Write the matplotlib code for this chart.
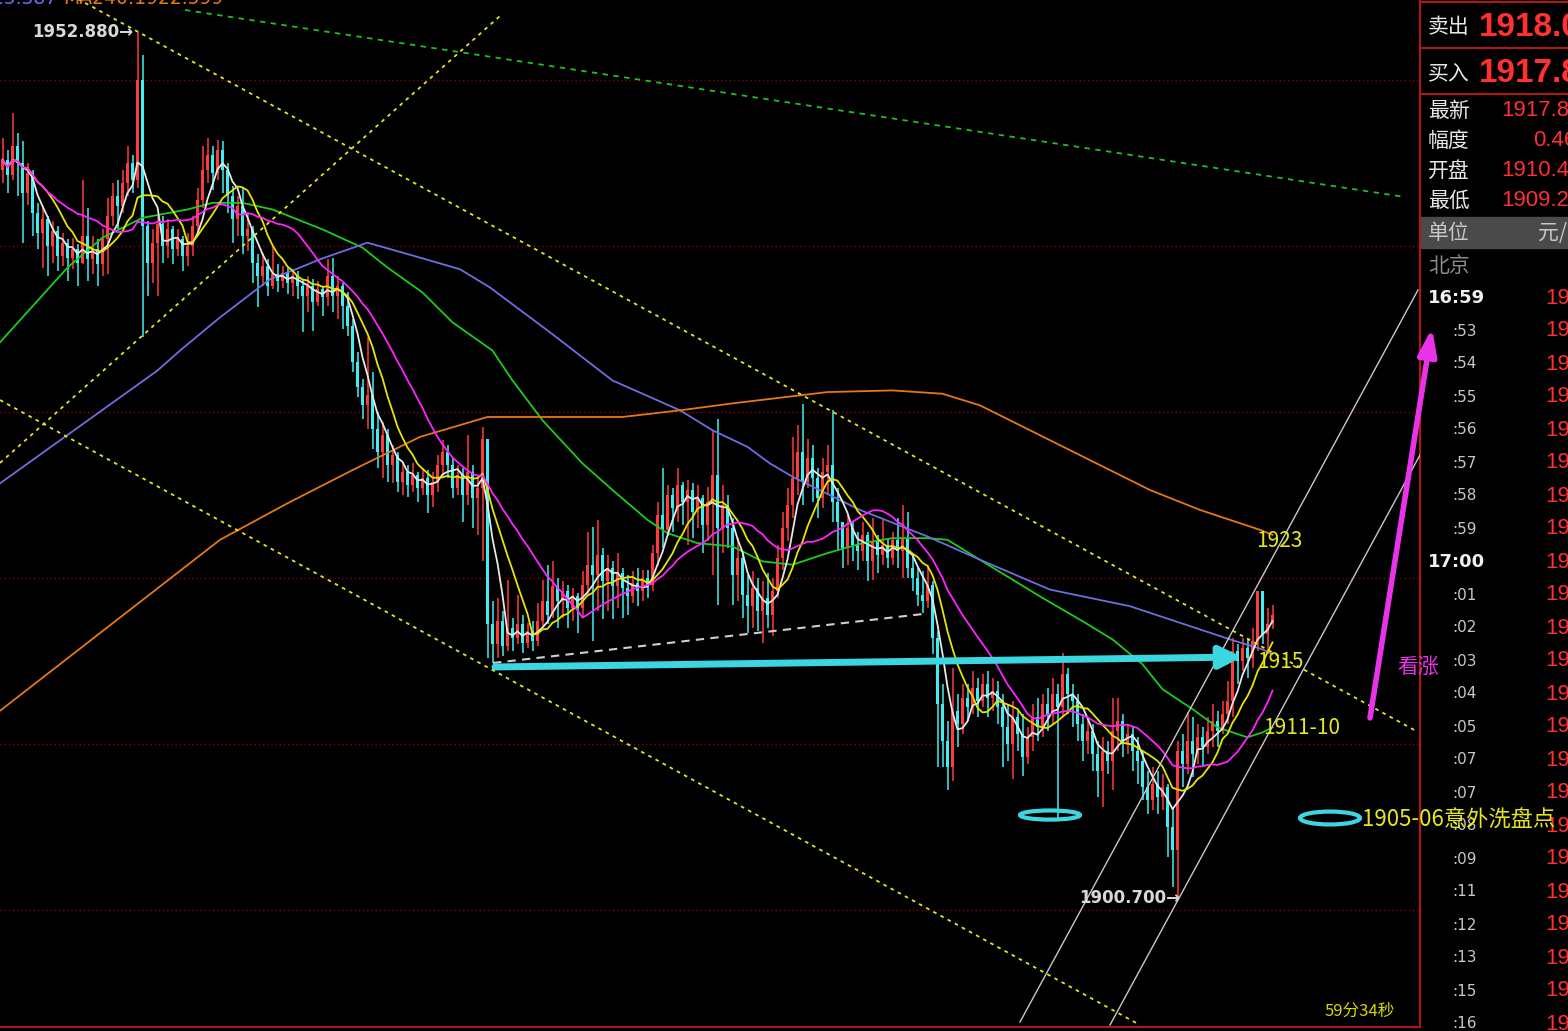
import matplotlib
matplotlib.use("Agg")
import matplotlib.pyplot as plt
import numpy as np
import pandas as pd
from matplotlib.patches import Ellipse, Rectangle

plt.rcParams['font.family'] = ['Noto Sans CJK SC', 'DejaVu Sans']

# 1-minute bars, 元/克
first_open = 1944.6
close = [
    1945.2, 1944.3, 1946.0, 1945.0, 1943.2, 1944.4, 1942.0, 1940.8, 1941.6, 1940.0,
    1940.9, 1939.4, 1940.2, 1939.3, 1939.8, 1939.0, 1940.6, 1939.2, 1939.8, 1938.9,
    1940.4, 1941.8, 1943.0, 1942.4, 1943.8, 1945.0, 1944.0, 1950.0, 1941.2, 1939.0,
    1940.2, 1941.3, 1940.0, 1941.0, 1939.8, 1940.4, 1939.4, 1940.0, 1941.2, 1942.8,
    1944.6, 1945.5, 1944.4, 1945.8, 1944.6, 1943.0, 1941.6, 1942.4, 1940.6, 1941.0,
    1939.0, 1938.2, 1938.8, 1937.6, 1938.3, 1937.9, 1938.4, 1937.8, 1938.2, 1937.6,
    1937.0, 1937.6, 1936.6, 1937.4, 1936.9, 1938.2, 1937.0, 1937.6, 1936.4, 1935.2,
    1933.0, 1931.5, 1930.4, 1931.0, 1929.0, 1927.6, 1928.6, 1926.8, 1927.4, 1925.8,
    1926.4, 1925.6, 1926.2, 1925.4, 1926.0, 1925.0, 1925.8, 1926.8, 1927.6, 1926.8,
    1925.4, 1926.2, 1925.0, 1926.4, 1924.8, 1925.4, 1928.4, 1917.2, 1916.0, 1917.4,
    1915.9, 1917.0, 1916.4, 1917.2, 1916.1, 1916.8, 1916.2, 1917.4, 1918.6, 1917.8,
    1919.5, 1918.6, 1919.2, 1918.2, 1918.9, 1918.2, 1919.6, 1920.8, 1920.2, 1921.4,
    1919.8, 1920.6, 1919.5, 1920.3, 1919.4, 1918.9, 1919.7, 1919.2, 1920.0, 1919.6,
    1921.5, 1923.8, 1922.9, 1925.0, 1924.2, 1925.6, 1924.6, 1925.3, 1924.0, 1924.8,
    1923.2, 1924.6, 1926.2, 1923.0, 1924.4, 1923.0, 1920.2, 1921.2, 1919.0, 1918.3,
    1919.4, 1918.0, 1918.8, 1917.8, 1919.2, 1921.2, 1923.0, 1924.4, 1926.0, 1927.6,
    1925.8, 1927.2, 1926.0, 1924.8, 1926.4, 1926.8, 1924.6, 1923.4, 1921.8, 1923.0,
    1922.0, 1921.6, 1922.6, 1921.0, 1922.2, 1921.4, 1922.0, 1921.2, 1922.3, 1921.6,
    1922.4, 1920.6, 1920.0, 1919.0, 1918.6, 1919.6, 1916.4, 1912.4, 1910.2, 1908.6,
    1912.0, 1911.2, 1912.8, 1912.2, 1913.4, 1912.6, 1913.6, 1912.8, 1913.2, 1912.2,
    1911.0, 1910.0, 1911.6, 1910.6, 1909.2, 1910.4, 1911.6, 1911.0, 1912.4, 1911.8,
    1913.0, 1912.2, 1914.2, 1913.0, 1912.6, 1911.2, 1910.2, 1910.8, 1909.4, 1908.4,
    1909.6, 1909.0, 1910.8, 1911.4, 1910.0, 1910.6, 1909.6, 1909.0, 1907.4, 1906.6,
    1907.6, 1906.8, 1907.4, 1905.0, 1903.6, 1909.6, 1908.8, 1910.2, 1909.4, 1910.4,
    1909.8, 1910.8, 1911.4, 1910.8, 1911.8, 1912.6, 1915.6, 1915.0, 1915.8, 1915.2,
    1916.2, 1919.2, 1916.6, 1917.2, 1917.8,
]
high = [
    1946.5, 1945.8, 1948.0, 1946.8, 1946.3, 1945.0, 1944.6, 1942.6, 1942.4, 1941.8,
    1941.5, 1941.2, 1940.8, 1940.4, 1940.5, 1940.1, 1944.0, 1942.3, 1940.6, 1940.4,
    1941.0, 1942.9, 1943.8, 1944.0, 1944.6, 1946.0, 1945.5, 1952.88, 1951.5, 1941.5,
    1941.0, 1941.8, 1941.8, 1941.6, 1941.2, 1941.0, 1940.6, 1940.8, 1941.8, 1943.5,
    1946.0, 1946.5, 1946.0, 1946.4, 1946.3, 1945.0, 1943.6, 1943.0, 1943.5, 1942.0,
    1941.2, 1939.5, 1939.6, 1939.2, 1940.0, 1938.9, 1938.8, 1938.7, 1938.6, 1938.5,
    1938.0, 1938.2, 1938.0, 1937.9, 1937.6, 1939.2, 1939.3, 1938.2, 1937.8, 1937.2,
    1935.6, 1933.6, 1932.0, 1934.5, 1932.4, 1930.0, 1929.4, 1929.0, 1928.0, 1927.6,
    1927.0, 1926.8, 1926.9, 1926.4, 1926.6, 1926.5, 1926.4, 1927.4, 1928.3, 1928.0,
    1927.3, 1926.8, 1926.6, 1928.6, 1926.8, 1926.0, 1929.1, 1928.0, 1918.6, 1918.8,
    1918.0, 1919.9, 1917.6, 1919.0, 1917.8, 1917.3, 1917.4, 1918.5, 1919.9, 1920.8,
    1921.0, 1920.0, 1919.8, 1919.6, 1919.4, 1919.1, 1920.4, 1922.8, 1923.1, 1923.5,
    1921.8, 1921.4, 1921.0, 1921.5, 1920.6, 1920.2, 1920.4, 1920.6, 1920.5, 1920.5,
    1922.0, 1924.6, 1926.6, 1925.6, 1925.4, 1926.6, 1925.8, 1925.9, 1925.7, 1925.6,
    1925.0, 1925.5, 1928.9, 1929.6, 1925.6, 1925.0, 1923.6, 1922.4, 1921.6, 1920.2,
    1920.4, 1920.0, 1919.8, 1920.3, 1920.0, 1922.0, 1924.0, 1925.4, 1928.5, 1929.2,
    1930.5, 1928.4, 1928.0, 1926.6, 1927.2, 1928.0, 1930.1, 1925.4, 1923.4, 1923.8,
    1923.4, 1922.8, 1923.4, 1922.8, 1923.6, 1922.6, 1923.5, 1922.4, 1922.8, 1923.6,
    1924.4, 1924.0, 1921.4, 1920.6, 1920.4, 1920.8, 1919.8, 1916.8, 1913.6, 1911.4,
    1914.6, 1913.0, 1913.6, 1913.6, 1914.4, 1914.0, 1914.2, 1914.4, 1914.0, 1913.8,
    1913.0, 1912.4, 1912.6, 1912.0, 1911.8, 1911.0, 1912.4, 1912.8, 1913.0, 1913.4,
    1914.0, 1913.6, 1915.5, 1914.6, 1913.6, 1913.0, 1911.8, 1911.6, 1911.2, 1910.2,
    1910.4, 1910.2, 1912.8, 1912.8, 1911.8, 1911.2, 1911.0, 1910.4, 1909.6, 1908.4,
    1908.6, 1908.4, 1908.2, 1907.6, 1906.2, 1910.2, 1910.6, 1911.9, 1911.6, 1911.2,
    1911.0, 1911.6, 1912.4, 1912.0, 1912.6, 1913.8, 1916.4, 1916.0, 1916.4, 1916.4,
    1917.0, 1919.2, 1918.4, 1918.2, 1918.4,
]
low = [
    1943.8, 1943.2, 1944.0, 1943.0, 1940.2, 1942.5, 1940.6, 1939.8, 1938.7, 1938.2,
    1939.0, 1938.5, 1938.8, 1937.9, 1938.6, 1937.6, 1938.9, 1937.9, 1938.3, 1937.6,
    1938.2, 1938.3, 1941.2, 1941.0, 1942.0, 1943.0, 1943.2, 1943.5, 1934.5, 1937.0,
    1937.8, 1937.0, 1939.0, 1939.3, 1938.9, 1939.4, 1938.5, 1938.8, 1939.4, 1940.6,
    1942.3, 1943.8, 1943.4, 1944.0, 1943.2, 1942.0, 1940.2, 1940.6, 1939.5, 1939.7,
    1937.8, 1936.3, 1937.6, 1937.0, 1937.4, 1937.2, 1937.5, 1937.1, 1937.0, 1936.8,
    1934.8, 1936.0, 1934.9, 1936.4, 1935.8, 1936.4, 1936.0, 1935.6, 1935.0, 1934.6,
    1932.4, 1930.9, 1929.6, 1929.0, 1927.8, 1926.6, 1926.0, 1925.8, 1925.7, 1925.2,
    1925.0, 1924.9, 1925.2, 1924.6, 1925.0, 1923.9, 1924.3, 1925.2, 1926.0, 1926.0,
    1924.8, 1925.0, 1923.4, 1924.4, 1923.0, 1922.6, 1921.0, 1915.2, 1914.9, 1915.2,
    1915.3, 1915.6, 1915.6, 1916.0, 1915.5, 1915.8, 1915.6, 1915.9, 1917.0, 1917.2,
    1917.6, 1917.0, 1917.6, 1917.0, 1917.4, 1916.7, 1917.6, 1919.0, 1916.2, 1918.0,
    1917.5, 1918.0, 1917.5, 1918.2, 1917.6, 1917.8, 1918.5, 1918.3, 1918.6, 1918.8,
    1919.2, 1920.7, 1921.8, 1922.5, 1922.8, 1923.4, 1923.2, 1922.0, 1922.4, 1923.0,
    1921.5, 1922.2, 1920.2, 1918.4, 1921.5, 1921.8, 1918.4, 1918.6, 1917.6, 1916.7,
    1917.0, 1916.8, 1916.1, 1917.0, 1916.5, 1918.8, 1920.5, 1922.2, 1923.6, 1925.0,
    1924.4, 1925.4, 1924.6, 1923.6, 1924.2, 1925.0, 1923.4, 1921.6, 1920.6, 1920.8,
    1921.0, 1920.5, 1921.0, 1919.8, 1919.9, 1920.3, 1920.8, 1920.6, 1920.8, 1920.6,
    1920.0, 1920.0, 1919.2, 1918.3, 1917.9, 1918.2, 1915.4, 1908.6, 1908.6, 1907.2,
    1907.8, 1909.8, 1910.6, 1911.4, 1911.8, 1911.6, 1912.2, 1911.6, 1912.0, 1911.2,
    1908.6, 1909.0, 1907.9, 1909.6, 1908.1, 1908.8, 1909.6, 1910.2, 1910.4, 1910.8,
    1911.2, 1905.5, 1911.6, 1911.8, 1911.0, 1910.2, 1909.0, 1909.4, 1908.4, 1906.8,
    1906.2, 1908.2, 1907.2, 1909.6, 1909.2, 1909.4, 1908.4, 1907.6, 1906.6, 1905.8,
    1906.0, 1905.8, 1906.0, 1903.2, 1901.4, 1900.7, 1907.4, 1908.2, 1908.0, 1908.8,
    1908.6, 1909.4, 1909.8, 1909.8, 1910.6, 1911.2, 1911.6, 1913.6, 1914.4, 1914.0,
    1914.6, 1915.6, 1916.0, 1915.4, 1916.9,
]

# long averages (MA60 / MA120 / MA240) read at bar positions
ma60_idx = [-0.5, 13, 20, 28, 37, 42, 48, 54, 64, 72, 77, 84, 90, 98, 102, 108, 116, 122,
            129, 133, 139, 146, 152, 158, 165, 172, 178, 185, 189, 196, 208, 216, 222,
            228, 232, 238, 243, 246, 249, 252, 254]
ma60_val = [1934.2, 1938.7, 1940.5, 1941.7, 1942.2, 1942.6, 1942.6, 1942.2, 1941.0, 1939.9,
            1938.7, 1937.2, 1935.4, 1933.7, 1931.9, 1929.5, 1926.9, 1925.3, 1923.5, 1922.7,
            1922.1, 1921.9, 1921.0, 1920.8, 1921.5, 1922.1, 1922.4, 1922.4, 1922.3, 1921.0,
            1918.8, 1917.4, 1916.3, 1914.8, 1913.3, 1912.1, 1911.0, 1910.7, 1910.4, 1910.7,
            1911.0]
ma120_idx = [-0.5, 31, 35.5, 43.5, 53.5, 59.5, 63.5, 73, 83.5, 91.5, 97.5, 109.5, 122,
             135.5, 142, 149, 153.5, 158, 171.5, 185, 195.5, 209.5, 225.5, 235.5, 245.5,
             252, 254]
ma120_val = [1925.7, 1932.5, 1933.7, 1935.7, 1938.0, 1938.7, 1939.2, 1940.2, 1939.3, 1938.6,
             1937.5, 1934.8, 1931.9, 1930.1, 1928.9, 1927.9, 1926.9, 1926.1, 1924.1, 1922.5,
             1921.1, 1919.3, 1918.3, 1917.3, 1916.3, 1915.7, 1915.4]
ma240_idx = [-0.5, 43.5, 57, 70, 83.5, 97, 124, 135.5, 145.5, 165, 178, 188, 195.5, 209.5,
             229.5, 239.5, 251.5, 254]
ma240_val = [1912.0, 1922.3, 1924.5, 1926.5, 1928.5, 1929.7, 1929.7, 1930.1, 1930.5, 1931.2,
             1931.3, 1931.1, 1930.4, 1928.3, 1925.3, 1924.1, 1922.9, 1922.6]

# hand-drawn lines: ((bar, price), (bar, price))
rise_line = [(-0.5, 1926.93), (99.5, 1953.86)]
fall_upper = [(15.1, 1954.88), (283.1, 1910.72)]
fall_lower = [(-0.5, 1930.72), (227.5, 1893.07)]
green_dash = [(36.5, 1954.22), (280.5, 1942.95)]
neck_line = [(98.1, 1914.88), (184.1, 1917.83)]
chan_a = [(203.5, 1893.25), (283.1, 1937.35)]
chan_b = [(221.5, 1893.07), (283.5, 1927.41)]
cyan_arrow = [(98.5, 1914.64), (247.9, 1915.24)]
pink_arrow = [(273.5, 1911.57), (285.9, 1935.06)]

# quote panel
quote_names = ['最新', '幅度', '开盘', '最低']
quote_vals = ['1917.80', '0.46%', '1910.40', '1909.20']
tick_times = ['16:59', ':53', ':54', ':55', ':56', ':57', ':58', ':59', '17:00', ':01', ':02',
              ':03', ':04', ':05', ':07', ':07', ':08', ':09', ':11', ':12', ':13', ':15', ':16']
tick_prices = ['1917.8', '1917.6', '1917.7', '1917.5', '1917.6', '1917.8', '1917.9', '1918.0',
               '1917.9', '1917.8', '1917.7', '1917.8', '1917.6', '1917.7', '1917.8', '1917.9',
               '1917.8', '1917.7', '1917.8', '1917.9', '1918.0', '1917.8', '1917.8']

UP, DOWN = '#ff3c3c', '#40eef2'
YEL = '#e6e61e'

c = np.array(close)
o = np.r_[first_open, c[:-1]]
h = np.maximum(np.array(high), np.maximum(o, c))
l = np.minimum(np.array(low), np.minimum(o, c))
idx = np.arange(len(c))
col = np.where(c >= o, UP, DOWN)

W, H = 1568, 1031
fig = plt.figure(figsize=(W / 100, H / 100), dpi=100, facecolor='black')

# right-hand quote panel (pixel layout)
pax = fig.add_axes([1420 / W, 0, 148 / W, 1])
pax.set_xlim(1420, 1568)
pax.set_ylim(H, 0)
pax.axis('off')
pax.set_zorder(1)
pax.hlines([2, 48, 94], 1420, 1568, color='#b01818', lw=1.5)
pax.add_patch(Rectangle((1420, 217), 148, 31, color='#4a4a4a'))
pax.text(1428, 27, '卖出', color='#e8e8e8', fontsize=15, va='center')
pax.text(1428, 73, '买入', color='#e8e8e8', fontsize=15, va='center')
pax.text(1479, 27, '1918.00', color='#ff3030', fontsize=24, fontweight='bold',
         family='Liberation Sans', va='center')
pax.text(1479, 73, '1917.80', color='#ff3030', fontsize=24, fontweight='bold',
         family='Liberation Sans', va='center')
for k, (name, val) in enumerate(zip(quote_names, quote_vals)):
    y = 111 + 30 * k
    pax.text(1428, y, name, color='#e8e8e8', fontsize=15, va='center')
    x = 1533 if val.startswith('0') else 1501
    pax.text(x, y, val, color='#ff3030', fontsize=16, family='Liberation Sans', va='center')
pax.text(1428, 233, '单位', color='#c8c8c8', fontsize=15, va='center')
pax.text(1538, 233, '元/克', color='#c8c8c8', fontsize=15, va='center')
pax.text(1428, 266, '北京', color='#8a8a8a', fontsize=15, va='center')
for k, (t, p) in enumerate(zip(tick_times, tick_prices)):
    y = 298 + 33 * k
    if ':' == t[0]:
        pax.text(1452, y, t, color='#c8c8c8', fontsize=11, family='DejaVu Sans', va='center')
    else:
        pax.text(1428, y, t, color='#f0f0f0', fontsize=13, fontweight='bold',
                 family='DejaVu Sans', va='center')
    pax.text(1545, y, p, color='#ff3030', fontsize=16, family='Liberation Sans', va='center')

# main price chart
ax = fig.add_axes([0, 4 / H, 1420 / W, 1027 / H])
ax.set_zorder(2)
ax.set_facecolor('black')
ax.set_xlim(-0.5, 283.5)
ax.set_ylim(1892.95, 1954.82)
ax.set_xticks([])
ax.set_yticks([])
for side in ['top', 'left']:
    ax.spines[side].set_visible(False)
for side in ['bottom', 'right']:
    ax.spines[side].set_color('#b01818')
    ax.spines[side].set_linewidth(1.5)

for p in range(1900, 1951, 10):
    ax.axhline(p, color='#8a0000', lw=1, ls=(0, (1, 2)), zorder=1)

# candles
ax.vlines(idx, l, h, colors=col, lw=1.1, zorder=2)
ax.bar(idx, np.maximum(np.abs(c - o), 0.07), bottom=np.minimum(o, c), width=0.65,
       color=col, linewidth=0, zorder=2)

# moving averages
s = pd.Series(c)
for win, lc in [(5, '#e8e8e8'), (10, '#e6e600'), (20, '#ff24ff')]:
    ax.plot(idx, s.rolling(win, min_periods=1).mean(), color=lc, lw=1.3, zorder=4)
ax.plot(ma60_idx, ma60_val, color='#1ccc1c', lw=1.3, zorder=3)
ax.plot(ma120_idx, ma120_val, color='#6e6ee0', lw=1.3, zorder=3)
ax.plot(ma240_idx, ma240_val, color='#e57814', lw=1.3, zorder=3)

# trend lines
def seg(pts, **kw):
    (x0, y0), (x1, y1) = pts
    ax.plot([x0, x1], [y0, y1], **kw)

for pts in [rise_line, fall_upper, fall_lower]:
    seg(pts, color=YEL, lw=1.3, ls=(0, (2, 2.5)), zorder=5)
seg(green_dash, color='#20c020', lw=1.3, ls=(0, (3, 3)), zorder=5)
seg(neck_line, color='#cfcfcf', lw=1.5, ls=(0, (4, 3)), zorder=5)
seg(chan_a, color='#c8c8c8', lw=1, zorder=5)
seg(chan_b, color='#c8c8c8', lw=1, zorder=5)

ax.annotate('', xy=cyan_arrow[1], xytext=cyan_arrow[0], zorder=6,
            arrowprops=dict(arrowstyle='-|>,head_length=1.3,head_width=0.65',
                            color='#3cd6e0', lw=5, shrinkA=0, shrinkB=0))
ax.annotate('', xy=pink_arrow[1], xytext=pink_arrow[0], zorder=6, annotation_clip=False,
            arrowprops=dict(arrowstyle='-|>,head_length=1.6,head_width=0.55',
                            color='#e833e8', lw=4, shrinkA=0, shrinkB=0))

ax.add_patch(Ellipse((209.5, 1905.72), 12, 0.55, fill=False, ec='#3cd6e0', lw=3, zorder=6))
ax.add_patch(Ellipse((265.5, 1905.54), 12, 0.78, fill=False, ec='#3cd6e0', lw=3, zorder=6))

# labels
ax.text(26.1, 1952.88, '1952.880→', color='#d8d8d8', fontsize=12, fontweight='bold',
        family='DejaVu Sans', ha='right', va='center', zorder=7)
ax.text(235.5, 1900.7, '1900.700→', color='#d8d8d8', fontsize=12, fontweight='bold',
        family='DejaVu Sans', ha='right', va='center', zorder=7)
ax.text(250.7, 1922.23, '1923', color=YEL, fontsize=15, va='center', zorder=7)
ax.text(250.9, 1914.94, '1915', color=YEL, fontsize=15, va='center', zorder=7)
ax.text(252.1, 1910.96, '1911-10', color=YEL, fontsize=15, va='center', zorder=7)
ax.text(271.9, 1905.42, '1905-06意外洗盘点', color=YEL, fontsize=16, va='center', zorder=7)
ax.text(278.9, 1914.64, '看涨', color='#e833e8', fontsize=15, va='center', zorder=7)
ax.text(264.5, 1893.92, '59分34秒', color='#d8d800', fontsize=12, va='center', zorder=7)

fig.text(57 / W, 1 + 1 / H, 'MA120:1915.387', color='#6a6aff', fontsize=13.5,
         family='DejaVu Sans', ha='right', va='center')
fig.text(63 / W, 1 + 1 / H, 'MA240:1922.599', color='#e87a14', fontsize=13.5,
         family='DejaVu Sans', ha='left', va='center')

fig.savefig('out.png', dpi=100, facecolor='black')
